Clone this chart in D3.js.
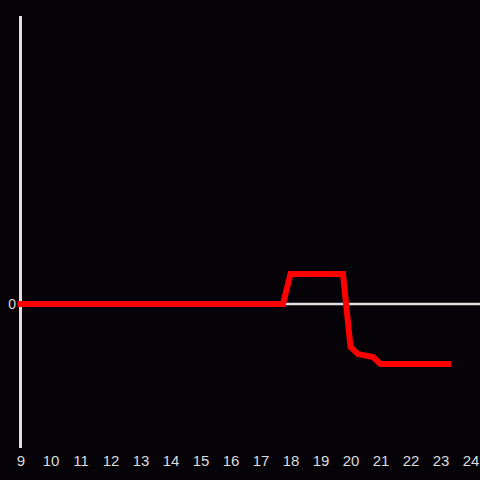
<!DOCTYPE html>
<html><head><meta charset="utf-8">
<script src="https://cdn.jsdelivr.net/npm/d3@7"></script>
<style>html,body{margin:0;padding:0;background:#050307;}svg{display:block;}</style>
</head><body>
<svg id="c" width="480" height="480"></svg>
<script>
const hours = [9, 17.75, 18.0, 19.75, 20.0, 20.25, 20.75, 21.0, 23.25];
const values = [0, 0, 1, 1, -1.43, -1.67, -1.77, -2, -2];
const xTicks = [9,10,11,12,13,14,15,16,17,18,19,20,21,22,23,24];
const yTicks = [0];

const svg = d3.select("#c");
const W = 480, H = 480;
svg.append("rect").attr("width", W).attr("height", H).attr("fill", "#050307");

const x = d3.scaleLinear().domain([9, 24]).range([20.5, 470.5]);
const y = d3.scaleLinear().domain([-4.8, 9.6]).range([448, 16]);

// y axis line
svg.append("line").attr("x1", x(9)).attr("x2", x(9)).attr("y1", y(9.6)).attr("y2", y(-4.8))
  .attr("stroke", "#e0e0e0").attr("stroke-width", 3);
// zero line
svg.append("line").attr("x1", x(9)).attr("x2", W).attr("y1", y(0)).attr("y2", y(0))
  .attr("stroke", "#e0e0e0").attr("stroke-width", 2.5);

// x tick labels
const xAxis = d3.axisBottom(x).tickValues(xTicks).tickSize(0).tickPadding(0).tickFormat(d3.format("d"));
const gx = svg.append("g").attr("transform", "translate(0,455)").call(xAxis);
gx.select(".domain").remove();
gx.selectAll("text").attr("fill", "#dcdcdc").attr("font-size", 15)
  .attr("font-family", "'Liberation Sans', Arial, sans-serif").attr("dy", "0.71em");

// y tick labels
const yAxis = d3.axisLeft(y).tickValues(yTicks).tickSize(0).tickPadding(0).tickFormat(d3.format("d"));
const gy = svg.append("g").attr("transform", "translate(16,0)").call(yAxis);
gy.select(".domain").remove();
gy.selectAll("text").attr("fill", "#dcdcdc").attr("font-size", 14)
  .attr("font-family", "'Liberation Sans', Arial, sans-serif");

// red line
const data = hours.map((h, i) => ({h, v: values[i]}));
const line = d3.line().x(d => x(d.h)).y(d => y(d.v));
svg.append("path").datum(data).attr("d", line).attr("fill", "none")
  .attr("stroke", "#ff0000").attr("stroke-width", 6)
  .attr("stroke-linecap", "square").attr("stroke-linejoin", "miter");
</script>
</body></html>
